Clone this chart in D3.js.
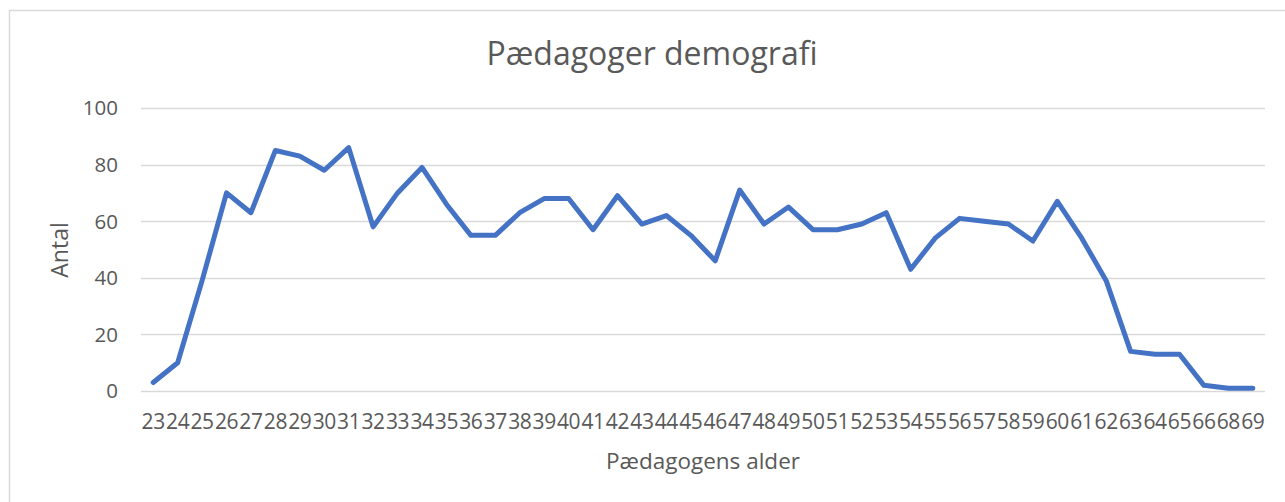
<!DOCTYPE html>
<html>
<head>
<meta charset="utf-8">
<script src="https://cdn.jsdelivr.net/npm/d3@7"></script>
<style>
  html, body { margin: 0; padding: 0; background: #fff; }
  svg { display: block; }
  text { font-family: "Open Sans", sans-serif; fill: #595959; }
</style>
</head>
<body>
<svg id="chart" width="1285" height="502"></svg>
<script>
const title = "Pædagoger demografi";
const xTitle = "Pædagogens alder";
const yTitle = "Antal";
const ages = ["23","24","25","26","27","28","29","30","31","32","33","34","35","36","37","38","39","40","41","42","43","44","45","46","47","48","49","50","51","52","53","54","55","56","57","58","59","60","61","62","63","64","65","66","68","69"];
const counts = [3,10,39,70,63,85,83,78,86,58,70,79,66,55,55,63,68,68,57,69,59,62,55,46,71,59,65,57,57,59,63,43,54,61,60,59,53,67,54,39,14,13,13,2,1,1];
const yTicks = [0,20,40,60,80,100];

(function () {
const svg = d3.select("#chart");

// chart frame
svg.append("rect")
  .attr("x", 9.5).attr("y", 10.5)
  .attr("width", 1400).attr("height", 700)
  .attr("fill", "#fff").attr("stroke", "#d9d9d9").attr("stroke-width", 1.5);

const plotLeft = 141, plotRight = 1265, plotTop = 108, plotBottom = 391;

const x = d3.scalePoint().domain(ages).range([plotLeft, plotRight]).padding(0.5);
const y = d3.scaleLinear().domain([0, 100]).range([plotBottom, plotTop]);

// gridlines
svg.append("g")
  .selectAll("line").data(yTicks).join("line")
  .attr("x1", plotLeft).attr("x2", plotRight)
  .attr("y1", d => Math.round(y(d)) + 0.5).attr("y2", d => Math.round(y(d)) + 0.5)
  .attr("stroke", "#d9d9d9").attr("stroke-width", 1.3);

// y tick labels
svg.append("g")
  .selectAll("text").data(yTicks).join("text")
  .attr("x", 118).attr("y", d => y(d))
  .attr("dy", "0.36em")
  .attr("text-anchor", "end")
  .style("font-size", "20.5px")
  .text(d => d);

// x tick labels
svg.append("g")
  .selectAll("text").data(ages).join("text")
  .attr("x", d => x(d)).attr("y", 429)
  .attr("text-anchor", "middle")
  .style("font-size", "21px")
  .style("letter-spacing", "-0.4px")
  .text(d => d);

// line
const line = d3.line()
  .x((d, i) => x(ages[i]))
  .y(d => y(d));
svg.append("path")
  .datum(counts)
  .attr("d", line)
  .attr("fill", "none")
  .attr("stroke", "#4472c4")
  .attr("stroke-width", 5)
  .attr("stroke-linejoin", "round")
  .attr("stroke-linecap", "round");

// title
svg.append("text")
  .attr("x", 652).attr("y", 65)
  .attr("text-anchor", "middle")
  .style("font-size", "32px")
  .text(title);

// axis titles
svg.append("text")
  .attr("x", 703).attr("y", 469)
  .attr("text-anchor", "middle")
  .style("font-size", "22.5px")
  .text(xTitle);

svg.append("text")
  .attr("transform", "translate(68,250) rotate(-90)")
  .attr("text-anchor", "middle")
  .style("font-size", "23px")
  .text(yTitle);
})();
</script>
</body>
</html>
